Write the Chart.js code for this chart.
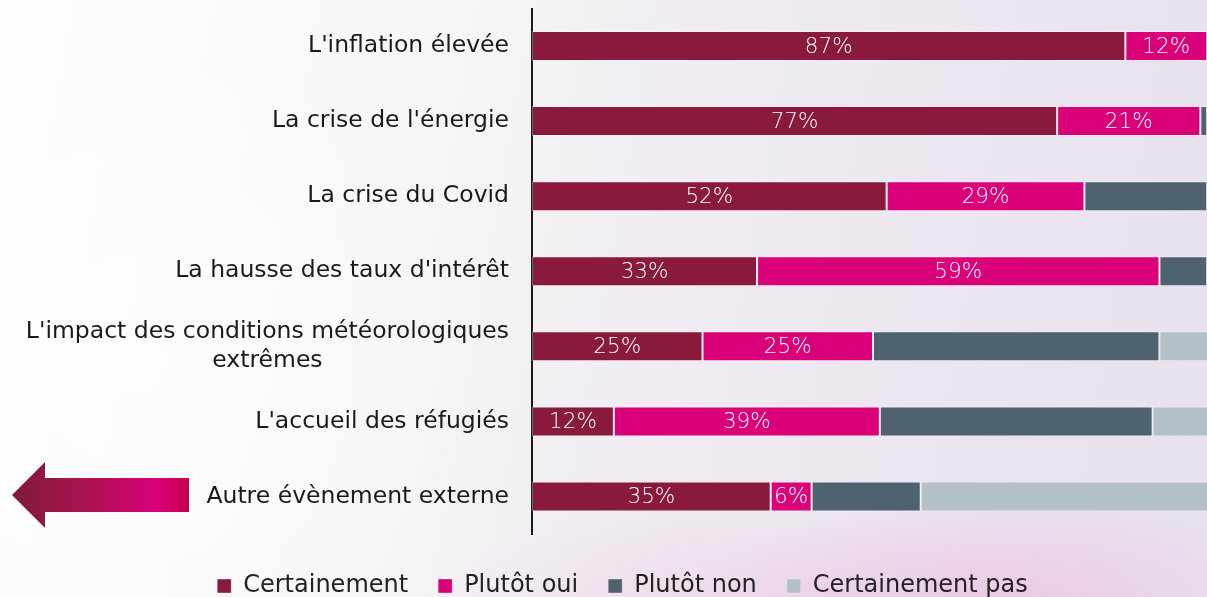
<!DOCTYPE html>
<html>
<head>
<meta charset="utf-8">
<script src="https://cdn.jsdelivr.net/npm/chart.js@4"></script>
<style>
  html, body { margin: 0; padding: 0; }
  body {
    width: 1207px; height: 597px; overflow: hidden; position: relative;
    background:
      radial-gradient(ellipse 300px 110px at 1000px 600px, rgba(236, 170, 215, 0.45), rgba(236, 170, 215, 0) 100%),
      radial-gradient(ellipse 300px 120px at 720px 620px, rgba(236, 180, 220, 0.35), rgba(236, 180, 220, 0) 100%),
      radial-gradient(circle 350px at 130px 360px, rgba(255, 255, 255, 0.6), rgba(255, 255, 255, 0) 100%),
      linear-gradient(100deg, #fefefe 0%, #f8f7f8 30%, #f0ecf2 55%, #ebe5ef 80%, #e8e1ed 100%);
  }
  #wrap { position: absolute; left: 0; top: 0; width: 1244px; height: 608px; }
  #arrow { position: absolute; left: 0; top: 0; }
</style>
</head>
<body>
<svg id="arrow" width="200" height="597">
  <defs>
    <linearGradient id="ag" x1="12" y1="0" x2="189" y2="0" gradientUnits="userSpaceOnUse">
      <stop offset="0" stop-color="#7e1a3b"/>
      <stop offset="0.45" stop-color="#ac1150"/>
      <stop offset="0.82" stop-color="#dc007b"/>
      <stop offset="1" stop-color="#c4004c"/>
    </linearGradient>
  </defs>
  <polygon points="12,495 45,462 45,478 189,478 189,512 45,512 45,528" fill="url(#ag)"/>
</svg>
<div id="wrap"><canvas id="chart"></canvas></div>
<script>
const categories = [
  "L'inflation élevée",
  "La crise de l'énergie",
  "La crise du Covid",
  "La hausse des taux d'intérêt",
  ["L'impact des conditions météorologiques", "extrêmes"],
  "L'accueil des réfugiés",
  "Autre évènement externe"
];
const seriesNames = ["Certainement", "Plutôt oui", "Plutôt non", "Certainement pas"];
const certainement = [87, 77, 52, 33, 25, 12, 35];
const plutotOui = [12, 21, 29, 59, 25, 39, 6];
const plutotNon = [1, 1, 18, 7, 42, 40, 16];
const certainementPas = [0, 1, 1, 1, 8, 9, 43];
const colors = ["#8a1a3b", "#da007a", "#4f626f", "#b3c0c7"];
const labelledSeries = [0, 1];

const labelFont = "'DejaVu Sans', sans-serif";

// draws the category names (centred lines for the wrapped one) and the % inside bars
const textPlugin = {
  id: 'texts',
  afterDatasetsDraw(chart) {
    const ctx = chart.ctx;
    ctx.save();
    ctx.font = "200 21.5px " + labelFont;
    ctx.fillStyle = "#ffffff";
    ctx.textAlign = "center";
    ctx.textBaseline = "middle";
    labelledSeries.forEach(function (di) {
      const meta = chart.getDatasetMeta(di);
      meta.data.forEach(function (bar, i) {
        const v = chart.data.datasets[di].data[i];
        if (!v) return;
        ctx.fillText(v + "%", (bar.x + bar.base) / 2, bar.y + 1);
      });
    });
    ctx.restore();
  },
  afterDraw(chart) {
    const ctx = chart.ctx;
    const y = chart.scales.y;
    const right = y.right - 23;
    ctx.save();
    ctx.font = "23.5px " + labelFont;
    ctx.fillStyle = "#1a1a1a";
    ctx.textAlign = "center";
    ctx.textBaseline = "middle";
    const lineH = 29;
    categories.forEach(function (cat, i) {
      const lines = Array.isArray(cat) ? cat : [cat];
      const w = Math.max.apply(null, lines.map(function (l) { return ctx.measureText(l).width; }));
      const cy = y.getPixelForValue(i);
      lines.forEach(function (l, k) {
        ctx.fillText(l, right - w / 2, cy + (k - (lines.length - 1) / 2) * lineH);
      });
    });
    ctx.restore();
  }
};

const ctx = document.getElementById("chart").getContext("2d");
new Chart(ctx, {
  type: 'bar',
  data: {
    labels: categories,
    datasets: [certainement, plutotOui, plutotNon, certainementPas].map(function (d, i) {
      return {
        label: seriesNames[i],
        data: d,
        backgroundColor: colors[i],
        borderColor: 'rgba(255,255,255,0.35)',
        borderWidth: 1,
        borderSkipped: false,
        barPercentage: 0.8,
        categoryPercentage: 0.5
      };
    })
  },
  options: {
    indexAxis: 'y',
    responsive: true,
    maintainAspectRatio: false,
    animation: false,
    devicePixelRatio: 1,
    layout: { padding: { top: 8.5, right: 30, bottom: 0, left: 31 } },
    plugins: {
      tooltip: { enabled: false },
      legend: {
        position: 'bottom',
        labels: {
          boxWidth: 14,
          boxHeight: 14,
          padding: 30,
          color: '#222',
          font: { family: labelFont, size: 24 }
        }
      }
    },
    scales: {
      x: {
        stacked: true,
        min: 0,
        max: 100,
        grid: { display: false, drawTicks: false },
        border: { display: false },
        ticks: { display: false },
        afterFit: function (scale) { scale.height = 10; }
      },
      y: {
        stacked: true,
        grid: { display: false, drawTicks: false },
        border: { display: true, color: '#1a1a1a', width: 2 },
        ticks: { display: false },
        afterFit: function (scale) { scale.width = 501; }
      }
    }
  },
  plugins: [textPlugin]
});
</script>
</body>
</html>
